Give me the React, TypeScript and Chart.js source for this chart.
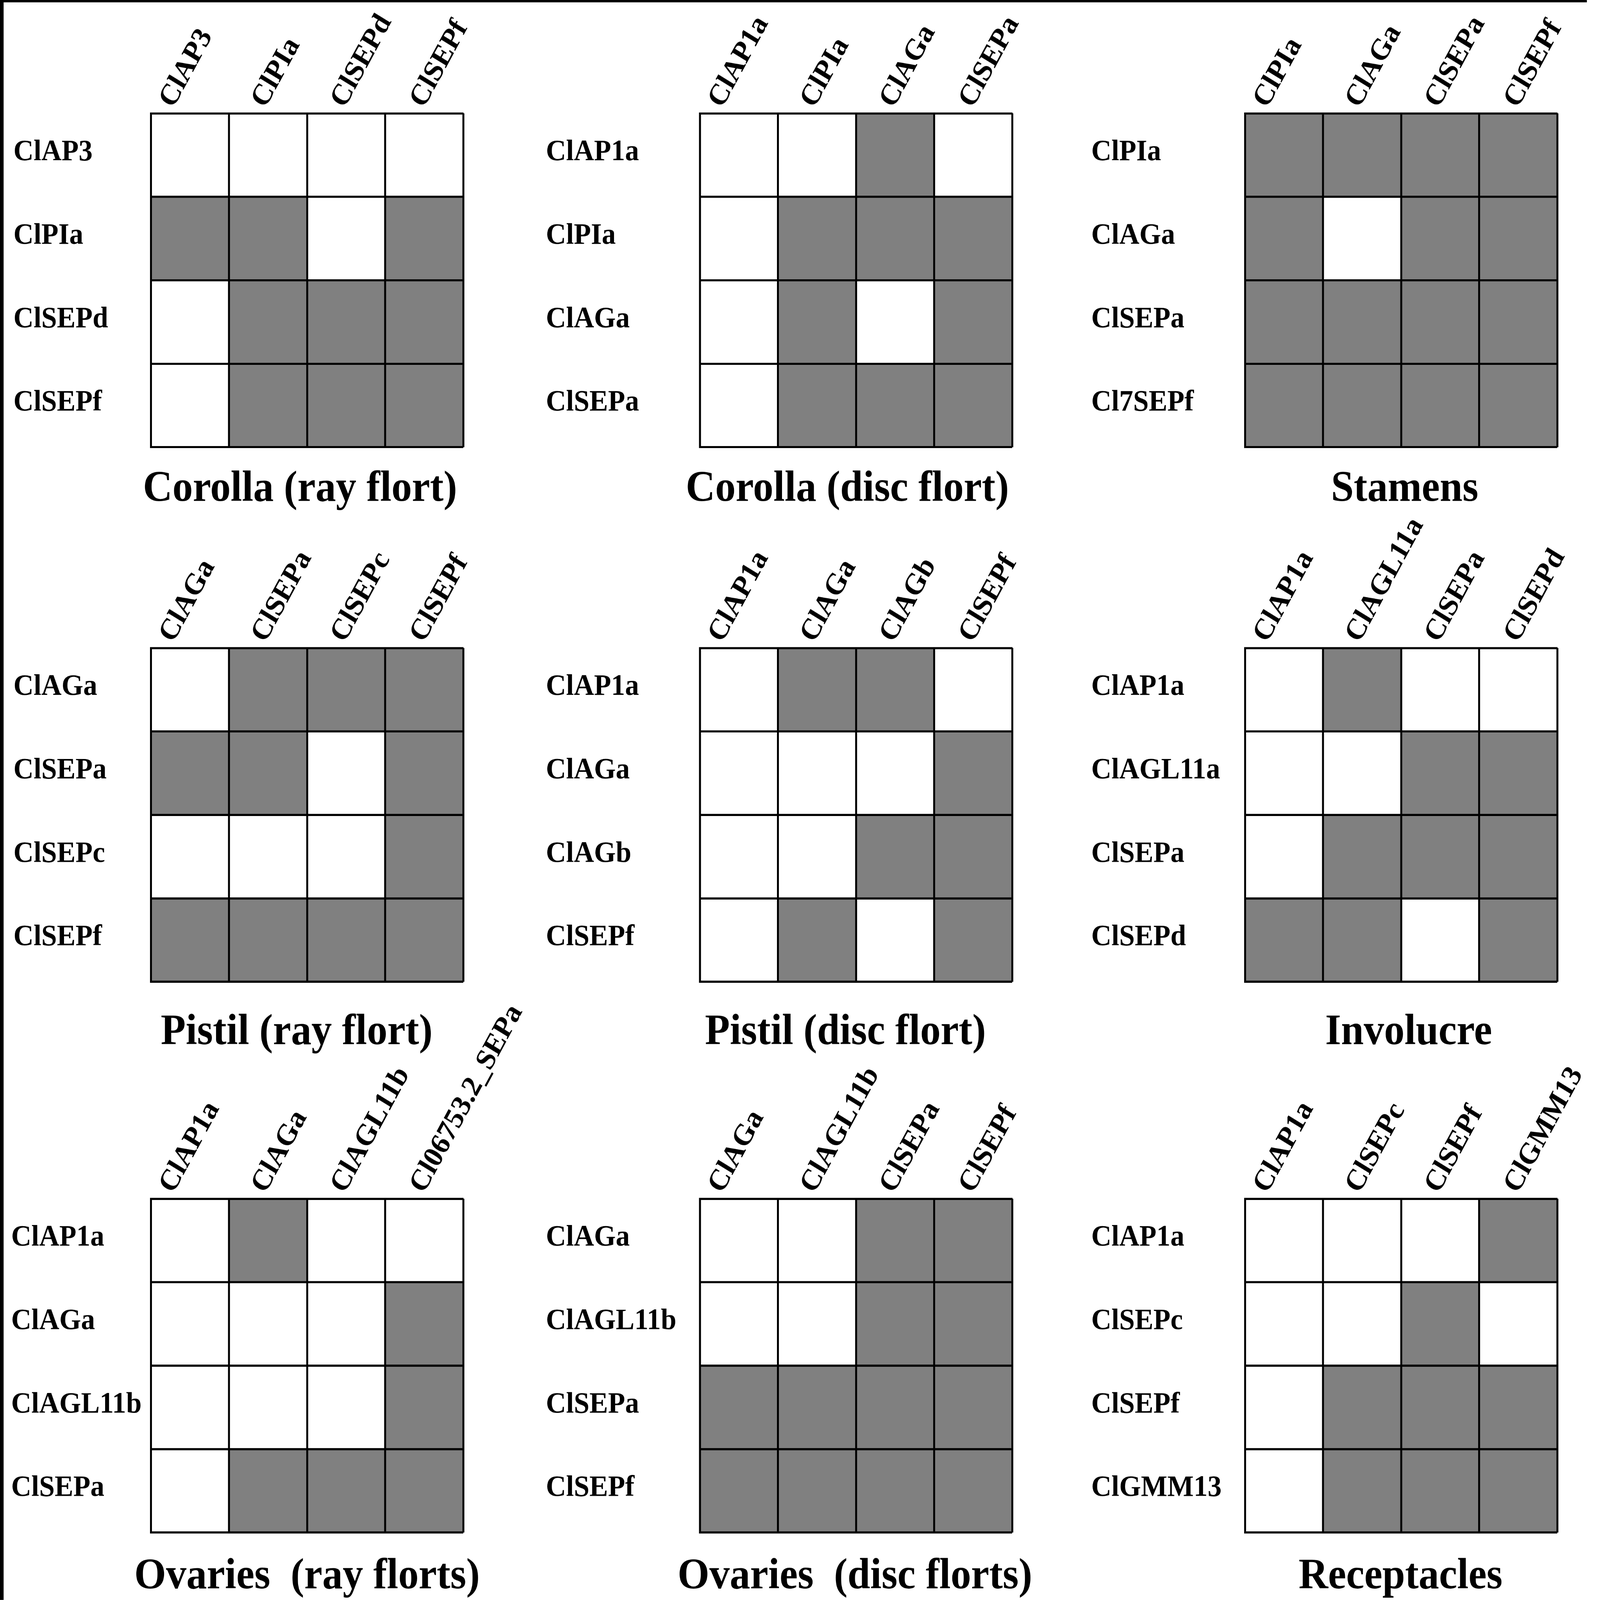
import React, { useEffect, useRef } from 'react';
import { Chart, registerables } from 'chart.js';

Chart.register(...registerables);

const PAGE_W = 5727;
const PAGE_H = 5363;
const GRAY = '#808080';
const WHITE = '#ffffff';
const FONT = '"Liberation Serif", "Times New Roman", Times, serif';
const GRID = 1118; // side of one 4x4 grid
const TOP_SPACE = 720; // room above the grid for the slanted gene names
const LINE = 7;
const LABEL_SIZE = 100;
const TITLE_SIZE = 146;
const TITLE_LINE = 1.25;

Chart.defaults.font.family = FONT;
Chart.defaults.color = '#000';

// 1 = grey cell, 0 = white cell (rows top to bottom, columns left to right)
const corollaRayCols = ['ClAP3', 'ClPIa', 'ClSEPd', 'ClSEPf'];
const corollaRayRows = ['ClAP3', 'ClPIa', 'ClSEPd', 'ClSEPf'];
const corollaRayCells = [
  [0, 0, 0, 0],
  [1, 1, 0, 1],
  [0, 1, 1, 1],
  [0, 1, 1, 1],
];

const corollaDiscCols = ['ClAP1a', 'ClPIa', 'ClAGa', 'ClSEPa'];
const corollaDiscRows = ['ClAP1a', 'ClPIa', 'ClAGa', 'ClSEPa'];
const corollaDiscCells = [
  [0, 0, 1, 0],
  [0, 1, 1, 1],
  [0, 1, 0, 1],
  [0, 1, 1, 1],
];

const stamensCols = ['ClPIa', 'ClAGa', 'ClSEPa', 'ClSEPf'];
const stamensRows = ['ClPIa', 'ClAGa', 'ClSEPa', 'Cl7SEPf'];
const stamensCells = [
  [1, 1, 1, 1],
  [1, 0, 1, 1],
  [1, 1, 1, 1],
  [1, 1, 1, 1],
];

const pistilRayCols = ['ClAGa', 'ClSEPa', 'ClSEPc', 'ClSEPf'];
const pistilRayRows = ['ClAGa', 'ClSEPa', 'ClSEPc', 'ClSEPf'];
const pistilRayCells = [
  [0, 1, 1, 1],
  [1, 1, 0, 1],
  [0, 0, 0, 1],
  [1, 1, 1, 1],
];

const pistilDiscCols = ['ClAP1a', 'ClAGa', 'ClAGb', 'ClSEPf'];
const pistilDiscRows = ['ClAP1a', 'ClAGa', 'ClAGb', 'ClSEPf'];
const pistilDiscCells = [
  [0, 1, 1, 0],
  [0, 0, 0, 1],
  [0, 0, 1, 1],
  [0, 1, 0, 1],
];

const involucreCols = ['ClAP1a', 'ClAGL11a', 'ClSEPa', 'ClSEPd'];
const involucreRows = ['ClAP1a', 'ClAGL11a', 'ClSEPa', 'ClSEPd'];
const involucreCells = [
  [0, 1, 0, 0],
  [0, 0, 1, 1],
  [0, 1, 1, 1],
  [1, 1, 0, 1],
];

const ovariesRayCols = ['ClAP1a', 'ClAGa', 'ClAGL11b', 'Cl06753.2_SEPa'];
const ovariesRayRows = ['ClAP1a', 'ClAGa', 'ClAGL11b', 'ClSEPa'];
const ovariesRayCells = [
  [0, 1, 0, 0],
  [0, 0, 0, 1],
  [0, 0, 0, 1],
  [0, 1, 1, 1],
];

const ovariesDiscCols = ['ClAGa', 'ClAGL11b', 'ClSEPa', 'ClSEPf'];
const ovariesDiscRows = ['ClAGa', 'ClAGL11b', 'ClSEPa', 'ClSEPf'];
const ovariesDiscCells = [
  [0, 0, 1, 1],
  [0, 0, 1, 1],
  [1, 1, 1, 1],
  [1, 1, 1, 1],
];

const receptaclesCols = ['ClAP1a', 'ClSEPc', 'ClSEPf', 'ClGMM13'];
const receptaclesRows = ['ClAP1a', 'ClSEPc', 'ClSEPf', 'ClGMM13'];
const receptaclesCells = [
  [0, 0, 0, 1],
  [0, 0, 1, 0],
  [0, 1, 1, 1],
  [0, 1, 1, 1],
];

interface PanelData {
  title: string;
  cols: string[];
  rows: string[];
  cells: number[][];
}

const panels: PanelData[] = [
  { title: 'Corolla (ray flort)', cols: corollaRayCols, rows: corollaRayRows, cells: corollaRayCells },
  { title: 'Corolla (disc flort)', cols: corollaDiscCols, rows: corollaDiscRows, cells: corollaDiscCells },
  { title: 'Stamens', cols: stamensCols, rows: stamensRows, cells: stamensCells },
  { title: 'Pistil (ray flort)', cols: pistilRayCols, rows: pistilRayRows, cells: pistilRayCells },
  { title: 'Pistil (disc flort)', cols: pistilDiscCols, rows: pistilDiscRows, cells: pistilDiscCells },
  { title: 'Involucre', cols: involucreCols, rows: involucreRows, cells: involucreCells },
  { title: 'Ovaries  (ray florts)', cols: ovariesRayCols, rows: ovariesRayRows, cells: ovariesRayCells },
  { title: 'Ovaries  (disc florts)', cols: ovariesDiscCols, rows: ovariesDiscRows, cells: ovariesDiscCells },
  { title: 'Receptacles', cols: receptaclesCols, rows: receptaclesRows, cells: receptaclesCells },
];

// page placement of each panel
interface PanelLayout {
  labelX: number;
  gridX: number;
  gridY: number;
  titleGap: number;
  titleShift: number;
}

const gridXs = [540, 2505, 4456];
const gridYs = [380, 2172, 4018];
const labelXs = [
  [48, 1954, 3906],
  [48, 1954, 3906],
  [40, 1954, 3906],
];
const titleGaps = [143, 172, 150];
const titleShifts = [-25, -31, 13, -37, -38, 27, 0, -4, -2];

const panelLayout: PanelLayout[] = panels.map((_, i) => {
  const r = Math.floor(i / 3);
  const c = i % 3;
  return {
    labelX: labelXs[r][c],
    gridX: gridXs[c],
    gridY: gridYs[r],
    titleGap: titleGaps[r],
    titleShift: titleShifts[i],
  };
});

const ROW_LABEL_NUDGE = 0.03; // row names sit a little above the row centre
const COL_LABEL_NUDGE = [-0.11, 0.07, 0.085, 0.1]; // slanted names, in cell widths

const Heatmap: React.FC<{ panel: PanelData; layout: PanelLayout }> = ({ panel, layout }) => {
  const ref = useRef<HTMLCanvasElement>(null);
  const yAxisW = layout.gridX - layout.labelX;
  const rightW = yAxisW + 2 * layout.titleShift;
  const titleLine = TITLE_SIZE * TITLE_LINE;
  const titlePad = layout.titleGap - titleLine / 2;
  const width = yAxisW + GRID + rightW;
  const height = Math.ceil(TOP_SPACE + GRID + titlePad + titleLine);

  useEffect(() => {
    if (!ref.current) return;
    const nRows = panel.rows.length;
    const chart = new Chart(ref.current, {
      type: 'bar',
      data: {
        labels: panel.cols,
        datasets: panel.rows.map((row, i) => ({
          label: row,
          data: panel.cols.map(() => 1),
          backgroundColor: panel.cells[i].map((v) => (v ? GRAY : WHITE)),
          borderWidth: 0,
          barPercentage: 1,
          categoryPercentage: 1,
          xAxisID: 'x',
          yAxisID: 'y',
          stack: 'rows',
        })),
      },
      options: {
        animation: false,
        responsive: false,
        maintainAspectRatio: false,
        devicePixelRatio: 1,
        events: [],
        layout: { padding: 0 },
        plugins: {
          legend: { display: false },
          tooltip: { enabled: false },
          title: {
            display: true,
            position: 'bottom',
            text: panel.title,
            color: '#000',
            font: { family: FONT, size: TITLE_SIZE, weight: 'bold', lineHeight: TITLE_LINE },
            padding: { top: titlePad, bottom: 0 },
          },
        },
        scales: {
          x: {
            type: 'category',
            position: 'top',
            stacked: true,
            offset: true,
            grid: { display: false },
            border: { display: true, color: '#000', width: LINE, z: 1 },
            afterBuildTicks: (s: any) => {
              s.ticks = s.ticks.map((t: any, i: number) => ({ value: t.value + (COL_LABEL_NUDGE[i] || 0) }));
            },
            ticks: {
              autoSkip: false,
              minRotation: 60,
              maxRotation: 60,
              padding: 5,
              color: '#000',
              font: { family: FONT, size: LABEL_SIZE, weight: 'bold', lineHeight: 0.6 },
              callback: (_v: any, i: number) => panel.cols[i],
            },
            afterFit: (s: any) => {
              s.height = TOP_SPACE;
            },
          },
          xg: {
            type: 'category',
            position: 'top',
            offset: true,
            display: true,
            grid: { offset: true, color: '#000', lineWidth: LINE, drawTicks: false, z: 1 },
            border: { display: false },
            ticks: { display: false },
            afterFit: (s: any) => {
              s.height = 0;
            },
          },
          y: {
            type: 'linear',
            position: 'left',
            stacked: true,
            reverse: true,
            min: 0,
            max: nRows,
            afterBuildTicks: (s: any) => {
              const ticks = [];
              for (let i = 0; i <= nRows; i++) {
                ticks.push({ value: i });
                if (i < nRows) ticks.push({ value: i + 0.5 - ROW_LABEL_NUDGE });
              }
              s.ticks = ticks;
            },
            grid: {
              color: (c: any) => (c.tick && Number.isInteger(c.tick.value) ? '#000' : 'rgba(0,0,0,0)'),
              lineWidth: LINE,
              drawTicks: false,
              z: 1,
            },
            border: { display: true, color: '#000', width: LINE, z: 1 },
            ticks: {
              autoSkip: false,
              crossAlign: 'far',
              padding: 0,
              color: '#000',
              font: { family: FONT, size: LABEL_SIZE, weight: 'bold' },
              callback: (value: any) => {
                const v = Number(value);
                return Number.isInteger(v) ? '' : panel.rows[Math.floor(v)];
              },
            },
            afterFit: (s: any) => {
              s.width = yAxisW;
            },
          },
          yR: {
            type: 'linear',
            position: 'right',
            display: true,
            min: 0,
            max: nRows,
            grid: { display: false },
            border: { display: false },
            ticks: { display: false },
            afterFit: (s: any) => {
              s.width = rightW;
            },
          },
        },
      } as any,
    });
    return () => {
      chart.destroy();
    };
  }, [panel, layout]);

  return (
    <canvas
      ref={ref}
      width={width}
      height={height}
      style={{
        position: 'absolute',
        left: layout.labelX,
        top: layout.gridY - TOP_SPACE,
        width,
        height,
      }}
    />
  );
};

export default function App() {
  // the figure is laid out in its own pixel size and stretched to fill the viewport
  const sx = window.innerWidth / PAGE_W;
  const sy = window.innerHeight / PAGE_H;

  useEffect(() => {
    document.body.style.margin = '0';
    document.body.style.overflow = 'hidden';
  }, []);

  return (
    <div
      style={{
        position: 'relative',
        width: window.innerWidth,
        height: window.innerHeight,
        overflow: 'hidden',
        background: '#fff',
      }}
    >
      <div
        style={{
          position: 'absolute',
          left: 0,
          top: 0,
          width: PAGE_W,
          height: PAGE_H,
          transform: `scale(${sx}, ${sy})`,
          transformOrigin: '0 0',
        }}
      >
        {panels.map((p, i) => (
          <Heatmap key={p.title} panel={p} layout={panelLayout[i]} />
        ))}
        <div style={{ position: 'absolute', left: 0, top: 0, width: 13, height: PAGE_H, background: '#000' }} />
        <div style={{ position: 'absolute', left: 0, top: 0, width: 5680, height: 8, background: '#000' }} />
      </div>
    </div>
  );
}
